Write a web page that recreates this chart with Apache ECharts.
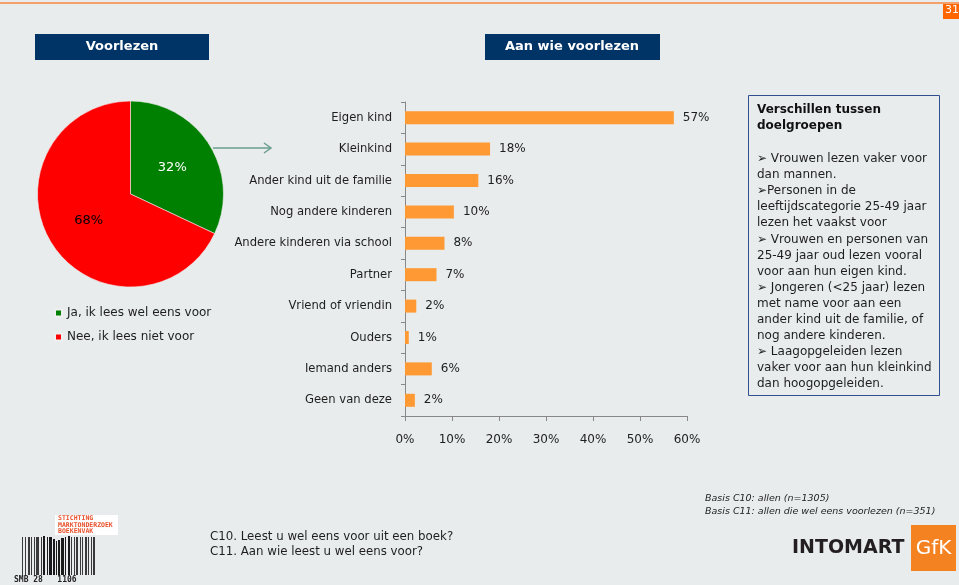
<!DOCTYPE html>
<html>
<head>
<meta charset="utf-8">
<script src="https://cdn.jsdelivr.net/npm/echarts@6/dist/echarts.min.js"></script>
<style>
html,body{margin:0;padding:0;background:#E9ECEC;}
#chart{width:959px;height:585px;}
</style>
</head>
<body>
<div id="chart"></div>
<script>
// ---- data ----
const pieNames = ['Ja, ik lees wel eens voor', 'Nee, ik lees niet voor'];
const pieValues = [32, 68];
const categories = ['Eigen kind', 'Kleinkind', 'Ander kind uit de familie', 'Nog andere kinderen',
  'Andere kinderen via school', 'Partner', 'Vriend of vriendin', 'Ouders', 'Iemand anders', 'Geen van deze'];
const barValues = [57.2, 18.1, 15.6, 10.4, 8.4, 6.7, 2.4, 0.8, 5.7, 2.1];
const xMin = 0, xMax = 60, xStep = 10;
const leftTitle = 'Voorlezen';
const rightTitle = 'Aan wie voorlezen';
const boxTitle = 'Verschillen tussen\ndoelgroepen';
const boxLines = [
  '\u27A2 Vrouwen lezen vaker voor', 'dan mannen.', '\u27A2Personen in de',
  'leeftijdscategorie 25-49 jaar', 'lezen het vaakst voor', '\u27A2 Vrouwen en personen van',
  '25-49 jaar oud lezen vooral', 'voor aan hun eigen kind.', '\u27A2 Jongeren (<25 jaar) lezen',
  'met name voor aan een', 'ander kind uit de familie, of', 'nog andere kinderen.',
  '\u27A2 Laagopgeleiden lezen', 'vaker voor aan hun kleinkind', 'dan hoogopgeleiden.'
];
const questions = 'C10. Leest u wel eens voor uit een boek?\nC11. Aan wie leest u wel eens voor?';
const basis = 'Basis C10: allen (n=1305)\nBasis C11: allen die wel eens voorlezen (n=351)';

const FONT = 'DejaVu Sans';
const TXT = '#1e1e1e';

// barcode decoration pattern (alternating bar / gap widths)
const barPattern = [1,2,1,2,2,1,1,2,1,1,3,2,1,1,2,2,1,1,3,1,2,1,1,1,2,1,3,1,1,2,2,1,1,2,1,1,2,2,1,1,1,2,2,1,1,2,1,1,2,2,1];
const barcode = [];
(function(){
  let x = 22, dark = true;
  for (let i = 0; i < barPattern.length && x < 97; i++) {
    const w = barPattern[i];
    if (dark) {
      const mid = Math.abs(x - 56) < 14;
      const top = mid ? 541 - Math.round(5 * Math.abs(Math.sin((x - 56) / 14 * Math.PI / 2))) : 537;
      barcode.push({type:'rect', shape:{x:x, y:top, width:w, height:575 - top},
        style:{fill: mid ? '#1a1a1a' : '#3a3a3a'}, silent:true});
    }
    x += w; dark = !dark;
  }
})();

const pieLabelBase = {fontFamily: FONT, fontSize: 13, fontWeight: 'normal', textBorderWidth: 0,
  textShadowBlur: 0, textBorderColor: 'transparent'};

const chart = echarts.init(document.getElementById('chart'));
const option = {
  backgroundColor: '#E9ECEC',
  animation: false,
  textStyle: {fontFamily: FONT},
  legend: {
    orient: 'vertical', left: 54, top: 306, icon: 'rect', padding: 0,
    itemWidth: 7, itemHeight: 7, itemGap: 10,
    textStyle: {fontFamily: FONT, fontSize: 12, color: TXT, lineHeight: 14},
    data: pieNames
  },
  grid: {left: 405, right: 272, top: 102, bottom: 169, containLabel: false},
  xAxis: {
    type: 'value', min: xMin, max: xMax, interval: xStep,
    axisLine: {show: true, lineStyle: {color: '#888', width: 1}},
    axisTick: {show: true, length: 5, lineStyle: {color: '#888'}},
    splitLine: {show: false},
    axisLabel: {formatter: '{value}%', fontFamily: FONT, fontSize: 12, color: TXT, margin: 18}
  },
  yAxis: {
    type: 'category', data: categories, inverse: true,
    axisLine: {show: true, lineStyle: {color: '#888', width: 1}},
    axisTick: {show: true, length: 4, lineStyle: {color: '#888'}},
    axisLabel: {fontFamily: FONT, fontSize: 11.6, color: TXT, margin: 13}
  },
  series: [
    {
      type: 'pie', center: [130.5, 194], radius: 93, startAngle: 90, clockwise: true,
      data: pieNames.map((n, i) => ({
        name: n, value: pieValues[i],
        itemStyle: {color: i === 0 ? '#008000' : '#FF0000'},
        label: Object.assign({}, pieLabelBase, {color: i === 0 ? '#ffffff' : '#000000'})
      })),
      label: Object.assign({show: true, position: 'inside', formatter: p => Math.round(p.value) + '%'}, pieLabelBase),
      labelLine: {show: false},
      itemStyle: {borderColor: '#f0f0f0', borderWidth: 0.6},
      emphasis: {disabled: true}
    },
    {
      type: 'bar', data: barValues, barWidth: 13,
      itemStyle: {color: '#FF9933'},
      label: {show: true, position: 'right', distance: 9, formatter: p => Math.round(p.value) + '%',
        fontFamily: FONT, fontSize: 12, color: TXT},
      emphasis: {disabled: true}
    }
  ],
  graphic: [
    // top line & page number
    {type:'rect', shape:{x:0, y:2, width:959, height:2}, style:{fill:'#F4A06A'}, silent:true},
    {type:'rect', shape:{x:943, y:4, width:16, height:15}, style:{fill:'#FF6600'}, silent:true},
    {type:'text', left: 945, top: 5, style:{text:'31', fill:'#fff', font:'11px "DejaVu Sans"'}, silent:true},
    // title boxes
    {type:'rect', shape:{x:35, y:34, width:174, height:26}, style:{fill:'#003366'}, silent:true},
    {type:'text', x:122, y:47, style:{text:leftTitle, fill:'#fff', font:'bold 13px "DejaVu Sans"', align:'center', verticalAlign:'middle'}, silent:true},
    {type:'rect', shape:{x:485, y:34, width:175, height:26}, style:{fill:'#003366'}, silent:true},
    {type:'text', x:572, y:47, style:{text:rightTitle, fill:'#fff', font:'bold 13px "DejaVu Sans"', align:'center', verticalAlign:'middle'}, silent:true},
    // arrow
    {type:'line', shape:{x1:213, y1:148, x2:271, y2:148}, style:{stroke:'#6A9E8E', lineWidth:1.5}, silent:true},
    {type:'polyline', shape:{points:[[264,143],[271,148],[264,153]]}, style:{stroke:'#6A9E8E', lineWidth:1.5, fill:null}, silent:true},
    // text box
    {type:'rect', shape:{x:748.5, y:95.5, width:191, height:300}, style:{fill:'none', stroke:'#2F4F8F', lineWidth:1}, silent:true},
    {type:'text', x:757, y:102, style:{text:boxTitle, fill:'#111', font:'bold 12px "DejaVu Sans"', lineHeight:16}, silent:true},
    {type:'text', x:757, y:151, style:{text:boxLines.join('\n'), fill:TXT, font:'12px "DejaVu Sans"', lineHeight:16.07}, silent:true},
    // basis
    {type:'text', x:705, y:492, style:{text:basis, fill:TXT, font:'italic 9.5px "DejaVu Sans"', lineHeight:13}, silent:true},
    // questions
    {type:'text', x:210, y:529, style:{text:questions, fill:TXT, font:'11.8px "DejaVu Sans"', lineHeight:15}, silent:true},
    // INTOMART GfK logo
    {type:'text', x:792, y:548, style:{text:'INTOMART', fill:'#231F20', font:'bold 19px "DejaVu Sans"', verticalAlign:'middle'}, silent:true},
    {type:'rect', shape:{x:911, y:525, width:45, height:46}, style:{fill:'#F58220'}, silent:true},
    {type:'text', x:933.5, y:549, style:{text:'GfK', fill:'#fff', font:'20px "DejaVu Sans"', align:'center', verticalAlign:'middle'}, silent:true},
    // SMB logo
    {type:'rect', shape:{x:55, y:515, width:63, height:20}, style:{fill:'#ffffff'}, silent:true},
    {type:'text', x:58, y:515, style:{text:'STICHTING\nMARKTONDERZOEK\nBOEKENVAK', fill:'#E8502A', font:'bold 6.5px "DejaVu Sans Mono"', lineHeight:6.7}, silent:true},
    ...barcode,
    {type:'text', x:14, y:576, style:{text:'SMB 28   1106', fill:'#222', font:'bold 8px "DejaVu Sans Mono"'}, silent:true}
  ]
};
chart.setOption(option);
</script>
</body>
</html>
